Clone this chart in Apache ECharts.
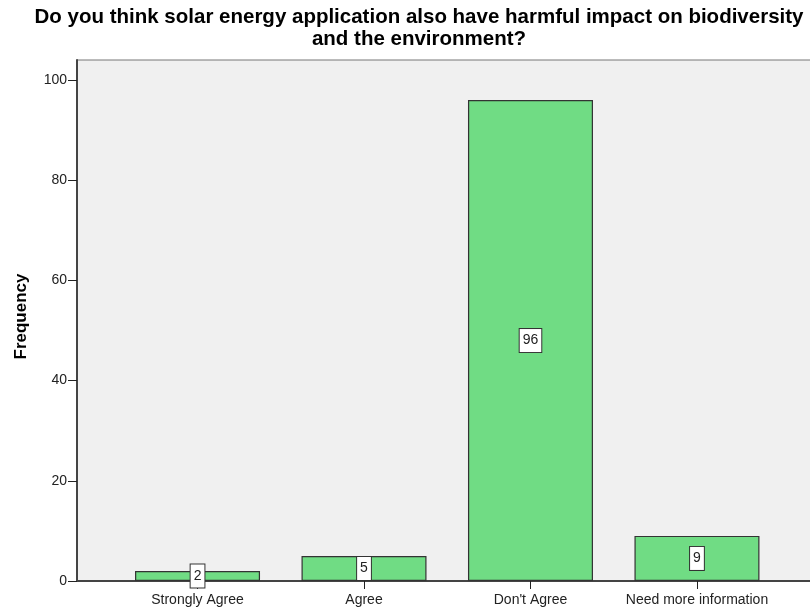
<!DOCTYPE html>
<html><head><meta charset="utf-8">
<script src="https://cdn.jsdelivr.net/npm/echarts@6/dist/echarts.min.js"></script>
<style>html,body{margin:0;padding:0;background:#fff}#c{width:810px;height:610px}</style>
</head><body><div id="c"></div>
<script>
const titleLines = ["Do you think solar energy application also have harmful impact on biodiversity", "and the environment?"];
const categories = ["Strongly Agree", "Agree", "Don't Agree", "Need more information"];
const frequencies = [2, 5, 96, 9];
const yTicks = [0, 20, 40, 60, 80, 100];

const positions = categories.map((c, i) => i);
const seriesData = frequencies.map((v, i) => [positions[i], v]);

const chart = echarts.init(document.getElementById('c'));
chart.setOption({
  animation: false,
  backgroundColor: '#ffffff',
  textStyle: { fontFamily: 'Liberation Sans, Arial, sans-serif' },
  title: {
    text: titleLines.join('\n'),
    left: 414, top: 1, textAlign: 'center',
    textStyle: { fontSize: 20.5, fontWeight: 'bold', color: '#000', lineHeight: 22, fontFamily: 'Liberation Sans, Arial, sans-serif' }
  },
  grid: { left: 77, right: -5, top: 60, bottom: 29, outerBoundsMode: 'none', containLabel: false, show: true, backgroundColor: '#f0f0f0', borderColor: '#777', borderWidth: 1 },
  xAxis: {
    type: 'value', min: -0.724, max: 3.709,
    splitLine: { show: false },
    axisLine: { show: true, lineStyle: { color: '#444', width: 2 } },
    axisTick: { show: true, customValues: positions, length: 8, lineStyle: { color: '#222', width: 1 } },
    axisLabel: { show: true, customValues: positions, formatter: v => categories[Math.round(v)], color: '#222', fontSize: 14, margin: 12 }
  },
  yAxis: {
    type: 'value', min: 0, max: 104, interval: 20,
    name: 'Frequency', nameLocation: 'middle', nameGap: 47, nameRotate: 90,
    nameTextStyle: { fontSize: 17, fontWeight: 'bold', color: '#000', padding: [0, 0, 0, 8] },
    splitLine: { show: false },
    axisLine: { show: true, onZero: false, lineStyle: { color: '#444', width: 2 } },
    axisTick: { show: true, length: 9, lineStyle: { color: '#222', width: 1 }, customValues: yTicks },
    axisLabel: { color: '#222', fontSize: 14, margin: 10, customValues: yTicks }
  },
  series: [{
    type: 'bar',
    data: seriesData,
    barWidth: 125,
    itemStyle: { color: '#70dc84', borderColor: '#333', borderWidth: 1.2 },
    label: {
      show: true, position: 'inside', color: '#222', fontSize: 14,
      backgroundColor: '#fff', borderColor: '#333', borderWidth: 1, padding: [5, 3, 4, 3],
      formatter: p => String(p.value[1])
    }
  }]
});
</script></body></html>
